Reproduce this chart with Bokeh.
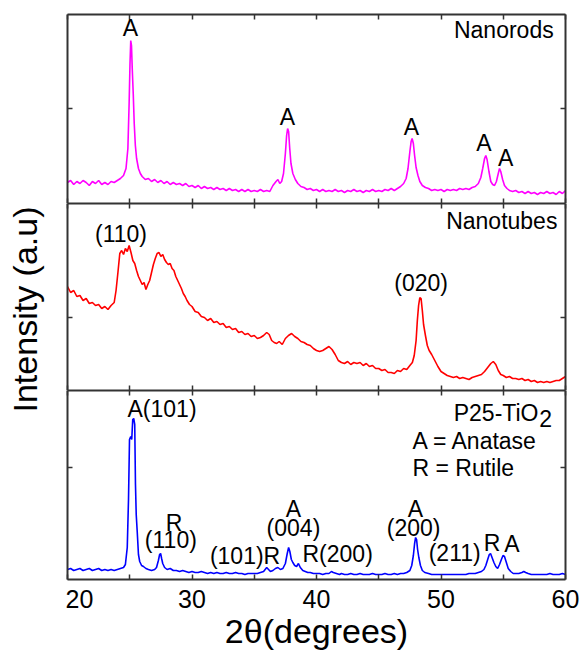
from math import pi
from bokeh.plotting import figure
from bokeh.models import Range1d, LinearAxis, FixedTicker, Label, CustomLabelingPolicy
from bokeh.layouts import row, column
from bokeh.embed import file_html
from bokeh.resources import INLINE

# ---------------- data (2theta in degrees, intensity in arbitrary units) ----------------
nanorods_xrd = [
    (20.0, 21), (20.25, 23), (20.5, 19), (20.75, 22), (21.0, 20), (21.25, 23), (21.5, 21), (21.75, 18),
    (22.0, 22), (22.25, 20), (22.5, 23), (22.75, 19), (23.0, 21), (23.25, 19), (23.5, 22), (23.75, 21),
    (24.0, 23), (24.25, 25), (24.5, 28), (24.7, 35), (24.85, 55), (24.95, 100), (25.02, 140), (25.08, 163),
    (25.14, 158), (25.2, 135), (25.28, 110), (25.36, 80), (25.45, 58), (25.55, 45), (25.7, 35), (25.85, 30),
    (26.0, 27), (26.25, 24), (26.5, 25), (26.75, 22), (27.0, 24), (27.25, 21), (27.5, 23), (27.75, 20),
    (28.0, 22), (28.25, 19), (28.5, 21), (28.75, 19), (29.0, 20), (29.25, 18), (29.5, 20), (29.75, 17),
    (30.0, 18), (30.25, 16), (30.5, 18), (30.75, 15), (31.0, 17), (31.25, 15), (31.5, 16), (31.75, 14),
    (32.0, 16), (32.25, 14), (32.5, 15), (32.75, 13), (33.0, 15), (33.25, 13), (33.5, 14), (33.75, 12),
    (34.0, 14), (34.25, 12), (34.5, 14), (34.75, 12), (35.0, 13), (35.25, 12), (35.5, 14), (35.75, 12),
    (36.0, 13), (36.25, 12), (36.5, 18), (36.75, 22), (36.9, 24), (37.05, 20), (37.2, 22), (37.35, 30),
    (37.5, 50), (37.6, 68), (37.68, 75), (37.76, 72), (37.85, 55), (37.95, 40), (38.1, 30), (38.3, 24),
    (38.5, 20), (38.75, 17), (39.0, 16), (39.25, 14), (39.5, 15), (39.75, 13), (40.0, 14), (40.25, 12),
    (40.5, 14), (40.75, 12), (41.0, 13), (41.25, 12), (41.5, 14), (41.75, 12), (42.0, 13), (42.25, 11),
    (42.5, 13), (42.75, 12), (43.0, 14), (43.25, 12), (43.5, 13), (43.75, 11), (44.0, 13), (44.25, 12),
    (44.5, 14), (44.75, 12), (45.0, 13), (45.25, 12), (45.5, 14), (45.75, 13), (46.0, 15), (46.25, 13),
    (46.5, 15), (46.75, 17), (47.0, 20), (47.2, 25), (47.35, 35), (47.5, 52), (47.6, 62), (47.68, 65),
    (47.78, 60), (47.88, 48), (48.0, 36), (48.15, 28), (48.3, 22), (48.5, 18), (48.75, 16), (49.0, 15),
    (49.25, 13), (49.5, 14), (49.75, 13), (50.0, 14), (50.25, 12), (50.5, 14), (50.75, 13), (51.0, 14),
    (51.25, 13), (51.5, 15), (51.75, 14), (52.0, 15), (52.25, 14), (52.5, 16), (52.75, 17), (53.0, 20),
    (53.2, 26), (53.35, 35), (53.5, 45), (53.6, 48), (53.7, 44), (53.85, 32), (54.0, 22), (54.15, 19),
    (54.3, 18), (54.45, 22), (54.6, 30), (54.7, 35), (54.8, 32), (54.95, 24), (55.1, 18), (55.3, 15),
    (55.5, 13), (55.75, 12), (56.0, 13), (56.25, 11), (56.5, 12), (56.75, 10), (57.0, 12), (57.25, 10),
    (57.5, 11), (57.75, 9), (58.0, 11), (58.25, 10), (58.5, 12), (58.75, 10), (59.0, 11), (59.25, 9),
    (59.5, 12), (59.75, 10), (60.0, 13),
]

nanotubes_xrd = [
    (20.0, 104), (20.25, 98), (20.5, 100), (20.75, 94), (21.0, 95), (21.25, 90), (21.5, 92), (21.75, 87),
    (22.0, 88), (22.25, 85), (22.5, 86), (22.75, 82), (23.0, 84), (23.25, 81), (23.5, 85), (23.75, 88),
    (23.9, 100), (24.05, 118), (24.2, 137), (24.35, 140), (24.5, 136), (24.65, 142), (24.8, 139), (24.95, 145),
    (25.1, 138), (25.25, 130), (25.4, 127), (25.55, 120), (25.7, 114), (25.85, 110), (26.0, 106), (26.15, 108),
    (26.3, 101), (26.45, 106), (26.6, 110), (26.75, 118), (26.9, 126), (27.05, 132), (27.2, 137), (27.35, 138),
    (27.5, 134), (27.65, 136), (27.8, 131), (27.95, 128), (28.1, 126), (28.25, 127), (28.4, 122), (28.55, 120),
    (28.7, 114), (28.85, 110), (29.0, 106), (29.15, 102), (29.3, 97), (29.45, 94), (29.6, 90), (29.8, 86),
    (30.0, 84), (30.25, 79), (30.5, 78), (30.75, 74), (31.0, 73), (31.25, 70), (31.5, 72), (31.75, 68),
    (32.0, 69), (32.25, 66), (32.5, 67), (32.75, 63), (33.0, 64), (33.25, 61), (33.5, 62), (33.75, 58),
    (34.0, 59), (34.25, 56), (34.5, 57), (34.75, 54), (35.0, 55), (35.25, 52), (35.5, 53), (35.75, 55),
    (36.0, 58), (36.2, 56), (36.4, 50), (36.6, 48), (36.8, 47), (37.0, 49), (37.25, 46), (37.5, 52),
    (37.75, 55), (38.0, 57), (38.25, 54), (38.5, 52), (38.75, 49), (39.0, 48), (39.25, 46), (39.5, 45),
    (39.75, 42), (40.0, 40), (40.25, 39), (40.5, 40), (40.75, 42), (41.0, 44), (41.25, 41), (41.5, 36),
    (41.75, 30), (42.0, 28), (42.25, 27), (42.5, 29), (42.75, 26), (43.0, 28), (43.25, 27), (43.5, 28),
    (43.75, 25), (44.0, 27), (44.25, 24), (44.5, 25), (44.75, 22), (45.0, 22), (45.25, 20), (45.5, 21),
    (45.75, 18), (46.0, 18), (46.25, 17), (46.5, 20), (46.75, 19), (47.0, 22), (47.25, 21), (47.5, 25),
    (47.7, 28), (47.85, 35), (48.0, 50), (48.1, 70), (48.2, 85), (48.3, 93), (48.4, 92), (48.5, 80),
    (48.6, 66), (48.75, 55), (48.9, 45), (49.05, 40), (49.25, 36), (49.5, 30), (49.75, 24), (50.0, 19),
    (50.25, 17), (50.5, 15), (50.75, 14), (51.0, 13), (51.25, 14), (51.5, 12), (51.75, 13), (52.0, 12),
    (52.25, 11), (52.5, 13), (52.75, 14), (53.0, 15), (53.25, 16), (53.5, 19), (53.75, 23), (54.0, 27),
    (54.2, 29), (54.4, 26), (54.6, 20), (54.8, 16), (55.0, 15), (55.25, 13), (55.5, 14), (55.75, 12),
    (56.0, 12), (56.25, 11), (56.5, 12), (56.75, 10), (57.0, 11), (57.25, 9), (57.5, 10), (57.75, 8),
    (58.0, 9), (58.25, 8), (58.5, 9), (58.75, 8), (59.0, 9), (59.25, 10), (59.5, 10), (59.75, 12),
    (60.0, 14),
]

p25_xrd = [
    (20.0, 10), (20.25, 11), (20.5, 9), (20.75, 10), (21.0, 11), (21.25, 9), (21.5, 10), (21.75, 11),
    (22.0, 9), (22.25, 10), (22.5, 11), (22.75, 9), (23.0, 10), (23.25, 9), (23.5, 10), (23.75, 9),
    (24.0, 10), (24.25, 11), (24.5, 12), (24.65, 15), (24.8, 32), (24.9, 80), (24.98, 140), (25.08, 143),
    (25.16, 140), (25.24, 160), (25.32, 161), (25.4, 155), (25.46, 95), (25.52, 65), (25.6, 48), (25.7, 25),
    (25.8, 18), (25.95, 14), (26.1, 13), (26.3, 11), (26.5, 10), (26.75, 9), (27.0, 10), (27.15, 12),
    (27.3, 19), (27.4, 25), (27.48, 26), (27.56, 21), (27.65, 16), (27.8, 12), (28.0, 10), (28.25, 11),
    (28.5, 9), (28.75, 9), (29.0, 8), (29.25, 9), (29.5, 8), (29.75, 7), (30.0, 8), (30.25, 7),
    (30.5, 7), (30.75, 8), (31.0, 7), (31.25, 6), (31.5, 7), (31.75, 6), (32.0, 7), (32.25, 6),
    (32.5, 6), (32.75, 7), (33.0, 6), (33.25, 6), (33.5, 7), (33.75, 6), (34.0, 6), (34.25, 5),
    (34.5, 6), (34.75, 6), (35.0, 6), (35.25, 6), (35.5, 7), (35.75, 8), (36.0, 12), (36.15, 10),
    (36.3, 8), (36.5, 9), (36.7, 11), (36.9, 12), (37.1, 10), (37.3, 11), (37.5, 16), (37.65, 26),
    (37.76, 32), (37.86, 28), (37.98, 20), (38.1, 17), (38.25, 14), (38.4, 13), (38.55, 16), (38.7, 12),
    (38.9, 9), (39.1, 8), (39.3, 7), (39.5, 7), (39.75, 6), (40.0, 6), (40.25, 6), (40.5, 5),
    (40.75, 6), (41.0, 6), (41.2, 8), (41.35, 7), (41.6, 6), (41.85, 5), (42.0, 6), (42.25, 5),
    (42.5, 5), (42.75, 6), (43.0, 5), (43.25, 5), (43.5, 6), (43.75, 5), (44.0, 5), (44.25, 5),
    (44.5, 6), (44.75, 5), (45.0, 5), (45.25, 5), (45.5, 6), (45.75, 5), (46.0, 5), (46.25, 6),
    (46.5, 5), (46.75, 6), (47.0, 6), (47.25, 7), (47.5, 9), (47.65, 14), (47.78, 24), (47.88, 36),
    (47.96, 42), (48.04, 40), (48.12, 30), (48.22, 22), (48.35, 14), (48.5, 9), (48.7, 7), (49.0, 6),
    (49.25, 5), (49.5, 5), (49.75, 5), (50.0, 5), (50.25, 5), (50.5, 5), (50.75, 5), (51.0, 5),
    (51.25, 5), (51.5, 5), (51.75, 5), (52.0, 5), (52.25, 6), (52.5, 6), (52.75, 6), (53.0, 7),
    (53.25, 8), (53.45, 10), (53.6, 14), (53.75, 20), (53.88, 25), (53.98, 26), (54.1, 22), (54.25, 17),
    (54.4, 13), (54.55, 11), (54.7, 15), (54.85, 20), (54.98, 24), (55.1, 23), (55.25, 17), (55.4, 11),
    (55.6, 8), (55.8, 6), (56.0, 6), (56.25, 6), (56.5, 7), (56.65, 8), (56.8, 7), (57.0, 6),
    (57.25, 5), (57.5, 5), (57.75, 5), (58.0, 5), (58.25, 5), (58.5, 5), (58.75, 6), (59.0, 5),
    (59.25, 5), (59.5, 5), (59.75, 6), (60.0, 5),
]

x_tick_values = [20, 30, 40, 50, 60]
x_minor_values = [25, 35, 45, 55]

# ---------------- styling helpers ----------------
FONT = "Liberation Sans"
AX_COLOR = "#333333"
LBL_SIZE = "23px"
BASE_SHIFT = 10  # correction so that the glyph baseline sits where intended

xr = Range1d(20, 60)

NO_LABELS = "for (const i of indices) { indices.unset(i) }\nreturn indices"


def style_axis(ax, show_labels=False):
    ax.axis_line_color = AX_COLOR
    ax.axis_line_width = 2
    ax.major_tick_in = 5
    ax.major_tick_out = 0
    ax.minor_tick_in = 5
    ax.minor_tick_out = 0
    ax.major_tick_line_color = AX_COLOR
    ax.major_tick_line_width = 1.5
    ax.minor_tick_line_color = AX_COLOR
    ax.minor_tick_line_width = 1.5
    if show_labels:
        ax.major_label_text_font = FONT
        ax.major_label_text_font_size = "25px"
        ax.major_label_text_color = "black"
        ax.major_label_standoff = 10
    else:
        ax.major_label_text_font_size = "0px"
        ax.major_label_standoff = 0
        ax.major_label_policy = CustomLabelingPolicy(code=NO_LABELS)


def make_panel(frame_h, top_border, y_tick, bottom_labels=False):
    p = figure(frame_width=498, frame_height=frame_h, x_range=xr, y_range=Range1d(0, frame_h),
               x_axis_type=None, y_axis_type=None, toolbar_location=None, output_backend="svg",
               min_border=0, min_border_left=2, min_border_right=19, min_border_top=top_border,
               outline_line_color=None, background_fill_color="white", border_fill_color="white")
    for loc in ("below", "above"):
        ax = LinearAxis(ticker=FixedTicker(ticks=x_tick_values, minor_ticks=x_minor_values))
        style_axis(ax, show_labels=(bottom_labels and loc == "below"))
        if bottom_labels and loc == "below":
            ax.axis_label = "2θ(degrees)"
            ax.axis_label_text_font = FONT
            ax.axis_label_text_font_size = "34px"
            ax.axis_label_text_font_style = "normal"
            ax.axis_label_text_color = "black"
            ax.axis_label_standoff = 1
        p.add_layout(ax, loc)
    for loc in ("left", "right"):
        ax = LinearAxis(ticker=FixedTicker(ticks=[y_tick], minor_ticks=[]))
        style_axis(ax)
        p.add_layout(ax, loc)
    return p


def add_text(p, x, y, text, align="center", size=LBL_SIZE):
    p.add_layout(Label(x=x, y=y + BASE_SHIFT, text=text, text_align=align, text_baseline="alphabetic",
                       text_font=FONT, text_font_size=size, text_color="black"))


# ---------------- panels ----------------
f1 = make_panel(189, 14, 95)
f1.line([a for a, b in nanorods_xrd], [b for a, b in nanorods_xrd], line_color="#ff00ff", line_width=1.6)
add_text(f1, 25.06, 166, "A")
add_text(f1, 37.67, 77, "A")
add_text(f1, 47.63, 67, "A")
add_text(f1, 53.45, 51, "A")
add_text(f1, 55.2, 36, "A")
add_text(f1, 59.05, 164, "Nanorods", align="right")

f2 = make_panel(187, 0, 73)
f2.line([a for a, b in nanotubes_xrd], [b for a, b in nanotubes_xrd], line_color="#ff0000", line_width=1.6)
add_text(f2, 24.3, 147, "(110)")
add_text(f2, 59.35, 160, "Nanotubes", align="right")
add_text(f2, 48.4, 98, "(020)")

f3 = make_panel(189, 0, 112, bottom_labels=True)
f3.line([a for a, b in p25_xrd], [b for a, b in p25_xrd], line_color="#0000ff", line_width=1.6)
add_text(f3, 24.82, 161, "A(101)", align="left")
add_text(f3, 28.55, 47, "R")
add_text(f3, 28.3, 30, "(110)")
add_text(f3, 34.26, 14, "(101)R")
add_text(f3, 38.15, 61, "A")
add_text(f3, 38.15, 42, "(004)")
add_text(f3, 41.7, 16, "R(200)")
add_text(f3, 47.95, 61, "A")
add_text(f3, 47.8, 42, "(200)")
add_text(f3, 51.1, 17, "(211)")
add_text(f3, 54.1, 27, "R")
add_text(f3, 55.7, 26, "A")
add_text(f3, 57.83, 157, "P25-TiO", align="right")
add_text(f3, 57.9, 151, "2", align="left")
add_text(f3, 47.71, 129, "A = Anatase", align="left")
add_text(f3, 47.71, 102, "R = Rutile", align="left")

# ---------------- y-axis title strip ----------------
lab = figure(width=65, height=652, x_range=Range1d(0, 65), y_range=Range1d(0, 652),
             x_axis_type=None, y_axis_type=None, toolbar_location=None, output_backend="svg",
             min_border=0, outline_line_color=None)
lab.add_layout(Label(x=24, y=652 - 309, text="Intensity (a.u)", angle=pi / 2, text_align="center",
                     text_baseline="alphabetic", text_font=FONT, text_font_size="34px",
                     text_color="black"))

layout = row(lab, column(f1, f2, f3))

open("out.html", "w").write(file_html(layout, INLINE))
